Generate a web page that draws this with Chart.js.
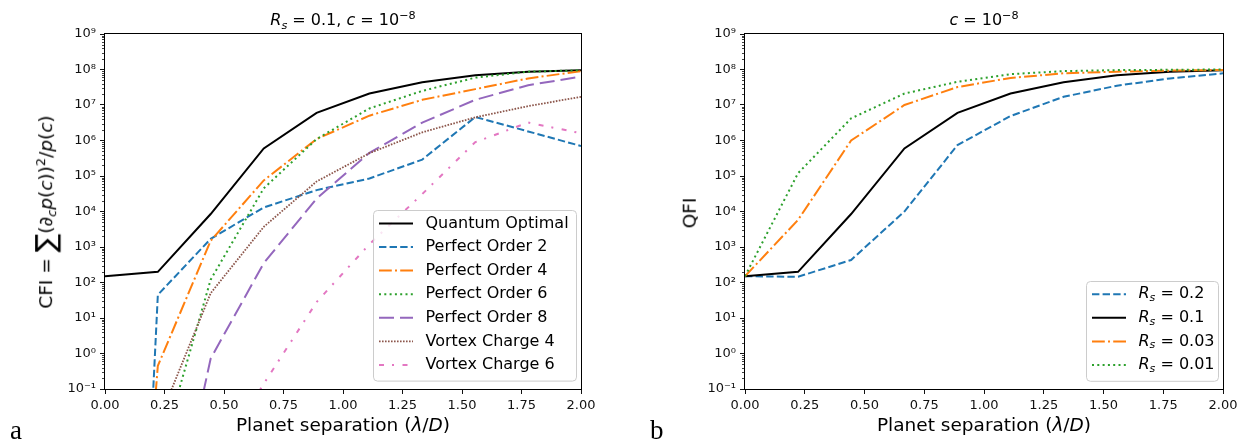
<!DOCTYPE html>
<html lang="en">
<head>
<meta charset="UTF-8" />
<title>CFI and QFI vs planet separation</title>
<script src="https://cdn.jsdelivr.net/npm/chart.js"></script>
<style>
  body { margin: 0; background: #fff; font-family: 'DejaVu Sans', sans-serif; }
  #page { position: relative; width: 1244px; height: 441px; overflow: hidden; }
  .panel { position: absolute; top: 0; height: 441px; }
  .txt { position: absolute; white-space: nowrap; color: #000; transform: translate(-50%, -50%); line-height: 1; }
  .title { font-size: 16px; }
  .axlab { font-size: 18.5px; }
  .rot { transform: translate(-50%, -50%) rotate(-90deg); }
  .tag { position: absolute; top: 417px; font-family: 'Liberation Serif', serif; font-size: 27px; line-height: 1; }
  sub, sup { font-size: 0.7em; line-height: 0; }
  .sum { font-size: 1.5em; vertical-align: -0.12em; }
</style>
</head>
<body>
<div id="page">
  <div class="panel" style="left:0;width:620px"><canvas id="cfi"></canvas></div>
  <div class="panel" style="left:620px;width:624px"><canvas id="qfi"></canvas></div>

  <div class="txt title" style="left:343px;top:20px"><i>R</i><sub><i>s</i></sub> = 0.1, <i>c</i> = 10<sup>−8</sup></div>
  <div class="txt title" style="left:984px;top:20px"><i>c</i> = 10<sup>−8</sup></div>

  <div class="txt axlab" style="left:343px;top:425px">Planet separation (<i>λ</i>/<i>D</i>)</div>
  <div class="txt axlab" style="left:984px;top:425px">Planet separation (<i>λ</i>/<i>D</i>)</div>

  <div class="txt axlab rot" style="left:46px;top:212px">CFI = <span class="sum">∑</span>(∂<sub><i>c</i></sub><i>p</i>(<i>c</i>))<sup>2</sup>/<i>p</i>(<i>c</i>)</div>
  <div class="txt axlab rot" style="left:690px;top:213px">QFI</div>

  <div class="tag" style="left:10px">a</div>
  <div class="tag" style="left:650px">b</div>
</div>

<script>
  // planet separation (lambda/D), ten samples from 0 to 2
  const sep = [0, 0.222, 0.444, 0.667, 0.889, 1.111, 1.333, 1.556, 1.778, 2.0];
  const xTicks = [0, 0.25, 0.5, 0.75, 1, 1.25, 1.5, 1.75, 2];
  const yTicks = [1e-1, 1e0, 1e1, 1e2, 1e3, 1e4, 1e5, 1e6, 1e7, 1e8, 1e9];

  // panel a: classical Fisher information, Rs = 0.1
  const quantumOptimal = [150, 200, 8500, 6e5, 6e6, 2.1e7, 4.4e7, 6.9e7, 8.7e7, 9.5e7];
  const perfectOrder2  = [1e-29, 45, 1.7e3, 1.3e4, 4e4, 8.5e4, 2.9e5, 4.6e6, 1.8e6, 7e5];
  const perfectOrder4  = [1e-19, 0.45, 1.5e3, 7.5e4, 1.1e6, 5e6, 1.4e7, 2.8e7, 5.6e7, 9e7];
  const perfectOrder6  = [1e-7, 8e-4, 120, 4.5e4, 1.1e6, 8e6, 2.5e7, 5.9e7, 8.7e7, 9.5e7];
  const perfectOrder8  = [1e-12, 1e-7, 0.72, 350, 2.3e4, 4.5e5, 3.2e6, 1.4e7, 3.6e7, 6.3e7];
  const vortexCharge4  = [1e-5, 0.011, 50, 3.7e3, 7e4, 4.4e5, 1.7e6, 4.5e6, 9.3e6, 1.7e7];
  const vortexCharge6  = [1e-10, 1e-7, 5e-4, 0.14, 28, 1.2e3, 3.1e4, 9e5, 3.2e6, 1.6e6];

  // panel b: quantum Fisher information for several Rs
  const rs02  = [150, 145, 430, 1e4, 7.4e5, 4.9e6, 1.7e7, 3.5e7, 5.6e7, 7.8e7];
  const rs01  = [150, 200, 8500, 6e5, 6e6, 2.1e7, 4.4e7, 6.9e7, 8.7e7, 9.5e7];
  const rs003 = [150, 5.8e3, 1e6, 1e7, 3.2e7, 5.8e7, 7.8e7, 8.7e7, 9.3e7, 9.7e7];
  const rs001 = [150, 1.2e5, 4.2e6, 2.1e7, 4.5e7, 7.4e7, 9e7, 9.6e7, 9.8e7, 1e8];

  const cfiNames = ['Quantum Optimal', 'Perfect Order 2', 'Perfect Order 4', 'Perfect Order 6',
                    'Perfect Order 8', 'Vortex Charge 4', 'Vortex Charge 6'];
  const rsNames = ['0.2', '0.1', '0.03', '0.01'];

  const STY = {
    black:  { color: '#000000', dash: [] },
    blue:   { color: '#1f77b4', dash: [7.4, 3.2] },
    orange: { color: '#ff7f0e', dash: [12.8, 3.2, 2, 3.2] },
    green:  { color: '#2ca02c', dash: [2, 3.3] },
    purple: { color: '#9467bd', dash: [15, 6] },
    brown:  { color: '#8c564b', dash: [1.6, 1.4], width: 1.8 },
    pink:   { color: '#e377c2', dash: [5, 8, 2, 8.5] }
  };

  const SUP = { '-': '⁻', '0': '⁰', '1': '¹', '2': '²', '3': '³', '4': '⁴', '5': '⁵', '6': '⁶', '7': '⁷', '8': '⁸', '9': '⁹' };

  Chart.defaults.font.family = "'DejaVu Sans', sans-serif";
  Chart.defaults.font.size = 13;
  Chart.defaults.color = '#111';

  function series(label, values, st, idx) {
    return {
      label: label,
      data: values.map((v, i) => ({ x: sep[i], y: v })),
      borderColor: st.color,
      backgroundColor: st.color,
      borderDash: st.dash,
      borderWidth: st.width || 2,
      borderCapStyle: 'butt',
      pointRadius: 0,
      tension: 0,
      fill: false,
      order: -idx
    };
  }

  function rrect(ctx, x, y, w, h, r) {
    ctx.beginPath();
    ctx.moveTo(x + r, y);
    ctx.lineTo(x + w - r, y);
    ctx.arcTo(x + w, y, x + w, y + r, r);
    ctx.lineTo(x + w, y + h - r);
    ctx.arcTo(x + w, y + h, x + w - r, y + h, r);
    ctx.lineTo(x + r, y + h);
    ctx.arcTo(x, y + h, x, y + h - r, r);
    ctx.lineTo(x, y + r);
    ctx.arcTo(x, y, x + r, y, r);
    ctx.closePath();
  }

  // minor log ticks, closed axes box and a matplotlib style legend inside the plot
  const framePlugin = {
    id: 'frame',
    afterDraw(chart, args, o) {
      const ctx = chart.ctx, a = chart.chartArea, ys = chart.scales.y;
      ctx.save();
      ctx.strokeStyle = '#111';
      ctx.lineWidth = 0.8;
      ctx.beginPath();
      for (let e = -1; e < 9; e++) {
        for (let k = 2; k < 10; k++) {
          const py = Math.round(ys.getPixelForValue(k * Math.pow(10, e))) + 0.5;
          ctx.moveTo(a.left - 3, py);
          ctx.lineTo(a.left, py);
        }
      }
      ctx.stroke();

      ctx.lineWidth = 1;
      ctx.strokeStyle = '#000';
      ctx.strokeRect(Math.round(a.left) - 0.5, Math.round(a.top) - 0.5,
                     Math.round(a.right - a.left) + 1, Math.round(a.bottom - a.top) + 1);

      const items = o.items, n = items.length, rowH = 23.6;
      const x1 = a.right - 5, bottom = a.bottom - 8;
      const last = bottom - 16, first = last - (n - 1) * rowH, top = first - 13;
      const x0 = x1 - o.width;
      rrect(ctx, Math.round(x0) + 0.5, Math.round(top) + 0.5, o.width, bottom - top, 4);
      ctx.fillStyle = 'rgba(255,255,255,0.8)';
      ctx.fill();
      ctx.strokeStyle = '#cccccc';
      ctx.stroke();

      items.forEach((it, i) => {
        const cy = first + i * rowH;
        ctx.beginPath();
        ctx.setLineDash(it.st.dash);
        ctx.lineCap = 'butt';
        ctx.strokeStyle = it.st.color;
        ctx.lineWidth = it.st.width || 2;
        ctx.moveTo(x0 + 6, cy);
        ctx.lineTo(x0 + 40, cy);
        ctx.stroke();
        ctx.setLineDash([]);

        ctx.fillStyle = '#000';
        ctx.textBaseline = 'middle';
        let tx = x0 + 52.5;
        it.parts.forEach(p => {
          const size = p.sub ? 11 : 16;
          ctx.font = (p.it ? 'italic ' : '') + size + "px 'DejaVu Sans'";
          ctx.fillText(p.t, tx, cy + (p.sub ? 4 : 0));
          tx += ctx.measureText(p.t).width;
        });
      });
      ctx.restore();
    }
  };

  function makeChart(id, datasets, yWidth, padRight, legend) {
    return new Chart(document.getElementById(id), {
      type: 'line',
      data: { datasets: datasets },
      plugins: [framePlugin],
      options: {
        responsive: true,
        maintainAspectRatio: false,
        animation: false,
        events: [],
        layout: { padding: { left: 0, right: padRight, top: 34, bottom: 0 } },
        plugins: {
          legend: { display: false },
          tooltip: { enabled: false },
          title: { display: false },
          frame: legend
        },
        scales: {
          x: {
            type: 'linear',
            min: 0,
            max: 2,
            afterBuildTicks: s => { s.ticks = xTicks.map(v => ({ value: v })); },
            afterFit: s => { s.height = 52; },
            ticks: { callback: v => v.toFixed(2), padding: 4, autoSkip: false, maxRotation: 0, color: '#111' },
            grid: { drawOnChartArea: false, drawTicks: true, tickLength: 5, tickColor: '#111', tickWidth: 1 },
            border: { display: false }
          },
          y: {
            type: 'logarithmic',
            min: 0.1,
            max: 1e9,
            afterBuildTicks: s => { s.ticks = yTicks.map(v => ({ value: v })); },
            afterFit: s => { s.width = yWidth; },
            ticks: {
              callback: v => '10' + String(Math.round(Math.log10(v))).split('').map(c => SUP[c]).join(''),
              padding: 4, autoSkip: false, color: '#111'
            },
            grid: { drawOnChartArea: false, drawTicks: true, tickLength: 5, tickColor: '#111', tickWidth: 1 },
            border: { display: false }
          }
        }
      }
    });
  }

  const cfiValues = [quantumOptimal, perfectOrder2, perfectOrder4, perfectOrder6, perfectOrder8, vortexCharge4, vortexCharge6];
  const cfiStyles = [STY.black, STY.blue, STY.orange, STY.green, STY.purple, STY.brown, STY.pink];
  makeChart('cfi',
    cfiValues.map((v, i) => series(cfiNames[i], v, cfiStyles[i], i)),
    105, 39,
    { width: 203, items: cfiNames.map((nm, i) => ({ st: cfiStyles[i], parts: [{ t: nm }] })) });

  const qfiValues = [rs02, rs01, rs003, rs001];
  const qfiStyles = [STY.blue, STY.black, STY.orange, STY.green];
  makeChart('qfi',
    qfiValues.map((v, i) => series('Rs = ' + rsNames[i], v, qfiStyles[i], i)),
    125, 21,
    { width: 132, items: rsNames.map((r, i) => ({
        st: qfiStyles[i],
        parts: [{ t: 'R', it: true }, { t: 's', it: true, sub: true }, { t: ' = ' + r }]
      })) });
</script>
</body>
</html>
